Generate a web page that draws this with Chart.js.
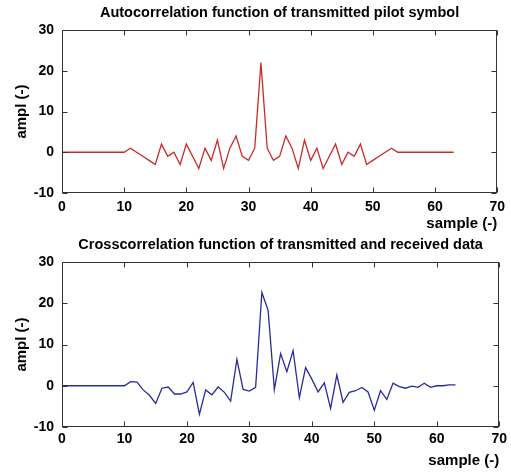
<!DOCTYPE html>
<html>
<head>
<meta charset="utf-8">
<script src="https://cdn.jsdelivr.net/npm/chart.js@4/dist/chart.umd.min.js"></script>
<style>
  body { margin: 0; background: #fff; }
  canvas { display: block; }
</style>
</head>
<body>
<canvas id="autoChart" width="511" height="234"></canvas>
<canvas id="crossChart" width="511" height="238"></canvas>
<script>
const samples = [0, 1, 2, 3, 4, 5, 6, 7, 8, 9, 10, 11, 12, 13, 14, 15, 16, 17, 18, 19,
  20, 21, 22, 23, 24, 25, 26, 27, 28, 29, 30, 31, 32, 33, 34, 35, 36, 37, 38, 39,
  40, 41, 42, 43, 44, 45, 46, 47, 48, 49, 50, 51, 52, 53, 54, 55, 56, 57, 58, 59,
  60, 61, 62, 63];

const autoCorr = [0, 0, 0, 0, 0, 0, 0, 0, 0, 0, 0, 1, 0, -1, -2, -3, 2, -1, 0, -3,
  2, -1, -4, 1, -2, 3, -4, 1, 4, -1, -2, 1, 22, 1, -2, -1, 4, 1, -4, 3,
  -2, 1, -4, -1, 2, -3, 0, -1, 2, -3, -2, -1, 0, 1, 0, 0, 0, 0, 0, 0,
  0, 0, 0, 0];

const crossCorr = [0, 0, 0, 0, 0, 0, 0, 0, 0, 0, 0, 1, 0.9, -1, -2.3, -4.3, -0.6, -0.3, -2, -2,
  -1.5, 0.8, -6.9, -1, -2.2, -0.3, -1.6, -3.7, 6.4, -0.9, -1.3, -0.4, 22.6, 18.3, -0.9, 7.8, 3.4, 8.5, -2.9, 4.4,
  1.6, -1.5, 0.7, -5.5, 2.6, -4, -1.6, -1.2, -0.4, -1.5, -5.9, -1.2, -3.3, 0.6, -0.2, -0.6, -0.1, -0.4, 0.6, -0.4,
  0, 0, 0.2, 0.2];

const xTicks = [0, 10, 20, 30, 40, 50, 60, 70];
const yTicks = [-10, 0, 10, 20, 30];

const fontFamily = "'Liberation Sans', Arial, sans-serif";

// matlab style frame with inward ticks
const boxTicks = {
    id: "boxTicks",
    afterDatasetsDraw(chart) {
        let ctx = chart.ctx;
        let a = chart.chartArea;
        let xs = chart.scales.x;
        let ys = chart.scales.y;
        let L = Math.round(a.left) + 0.5, R = Math.round(a.right) - 0.5;
        let T = Math.round(a.top) + 0.5, B = Math.round(a.bottom) - 0.5;
        ctx.save();
        ctx.strokeStyle = "#333";
        ctx.lineWidth = 1;
        ctx.strokeRect(L, T, R - L, B - T);
        ctx.beginPath();
        xs.ticks.forEach(t => {
            let px = Math.round(xs.getPixelForValue(t.value)) + 0.5;
            ctx.moveTo(px, B); ctx.lineTo(px, B - 5);
            ctx.moveTo(px, T); ctx.lineTo(px, T + 5);
        });
        ys.ticks.forEach(t => {
            let py = Math.round(ys.getPixelForValue(t.value)) + 0.5;
            ctx.moveTo(L, py); ctx.lineTo(L + 5, py);
            ctx.moveTo(R, py); ctx.lineTo(R - 5, py);
        });
        ctx.stroke();
        ctx.restore();
    }
};

function makeChart(id, title, values, color, opts) {
    let ctx = document.getElementById(id).getContext("2d");
    return new Chart(ctx, {
        type: "line",
        data: {
            datasets: [{
                data: samples.map((s, i) => ({ x: s, y: values[i] })),
                borderColor: color,
                borderWidth: 1.3,
                pointRadius: 0,
                tension: 0,
                fill: false
            }]
        },
        options: {
            responsive: false,
            animation: false,
            devicePixelRatio: 1,
            layout: { padding: { left: 0, right: 10, top: 0, bottom: 0 } },
            plugins: {
                legend: { display: false },
                tooltip: { enabled: false },
                title: {
                    display: true,
                    fullSize: false,
                    text: title,
                    color: "#000",
                    font: { family: fontFamily, size: 14.5, weight: "bold" },
                    padding: { top: opts.titleTop, bottom: opts.titleBottom }
                }
            },
            scales: {
                x: {
                    type: "linear",
                    min: 0,
                    max: 70,
                    afterBuildTicks: s => { s.ticks = xTicks.map(v => ({ value: v })); },
                    afterFit: s => { s.height = opts.xHeight; },
                    grid: { display: false, drawTicks: false },
                    border: { display: false },
                    ticks: {
                        color: "#000",
                        padding: opts.xPad,
                        maxRotation: 0,
                        font: { family: fontFamily, size: 14, weight: "bold" }
                    },
                    title: {
                        display: true,
                        text: "sample (-)",
                        align: "end",
                        color: "#000",
                        padding: { top: 0, bottom: opts.xTitleBottom },
                        font: { family: fontFamily, size: 15, weight: "bold" }
                    }
                },
                y: {
                    type: "linear",
                    min: -10,
                    max: 30,
                    afterBuildTicks: s => { s.ticks = yTicks.map(v => ({ value: v })); },
                    afterFit: s => { s.width = 62; },
                    grid: { display: false, drawTicks: false },
                    border: { display: false },
                    ticks: {
                        color: "#000",
                        padding: 8,
                        font: { family: fontFamily, size: 14, weight: "bold" }
                    },
                    title: {
                        display: true,
                        text: "ampl (-)",
                        color: "#000",
                        padding: { top: 13, bottom: 0 },
                        font: { family: fontFamily, size: 15, weight: "bold" }
                    }
                }
            }
        },
        plugins: [boxTicks]
    });
}

makeChart("autoChart", "Autocorrelation function of transmitted pilot symbol", autoCorr, "#cc2a2a",
    { titleTop: 4, titleBottom: 8.6, xHeight: 41, xPad: 6, xTitleBottom: 1 });
makeChart("crossChart", "Crosscorrelation function of transmitted and received data", crossCorr, "#2a2a9e",
    { titleTop: 2, titleBottom: 8.6, xHeight: 45, xPad: 4, xTitleBottom: 2 });
</script>
</body>
</html>
